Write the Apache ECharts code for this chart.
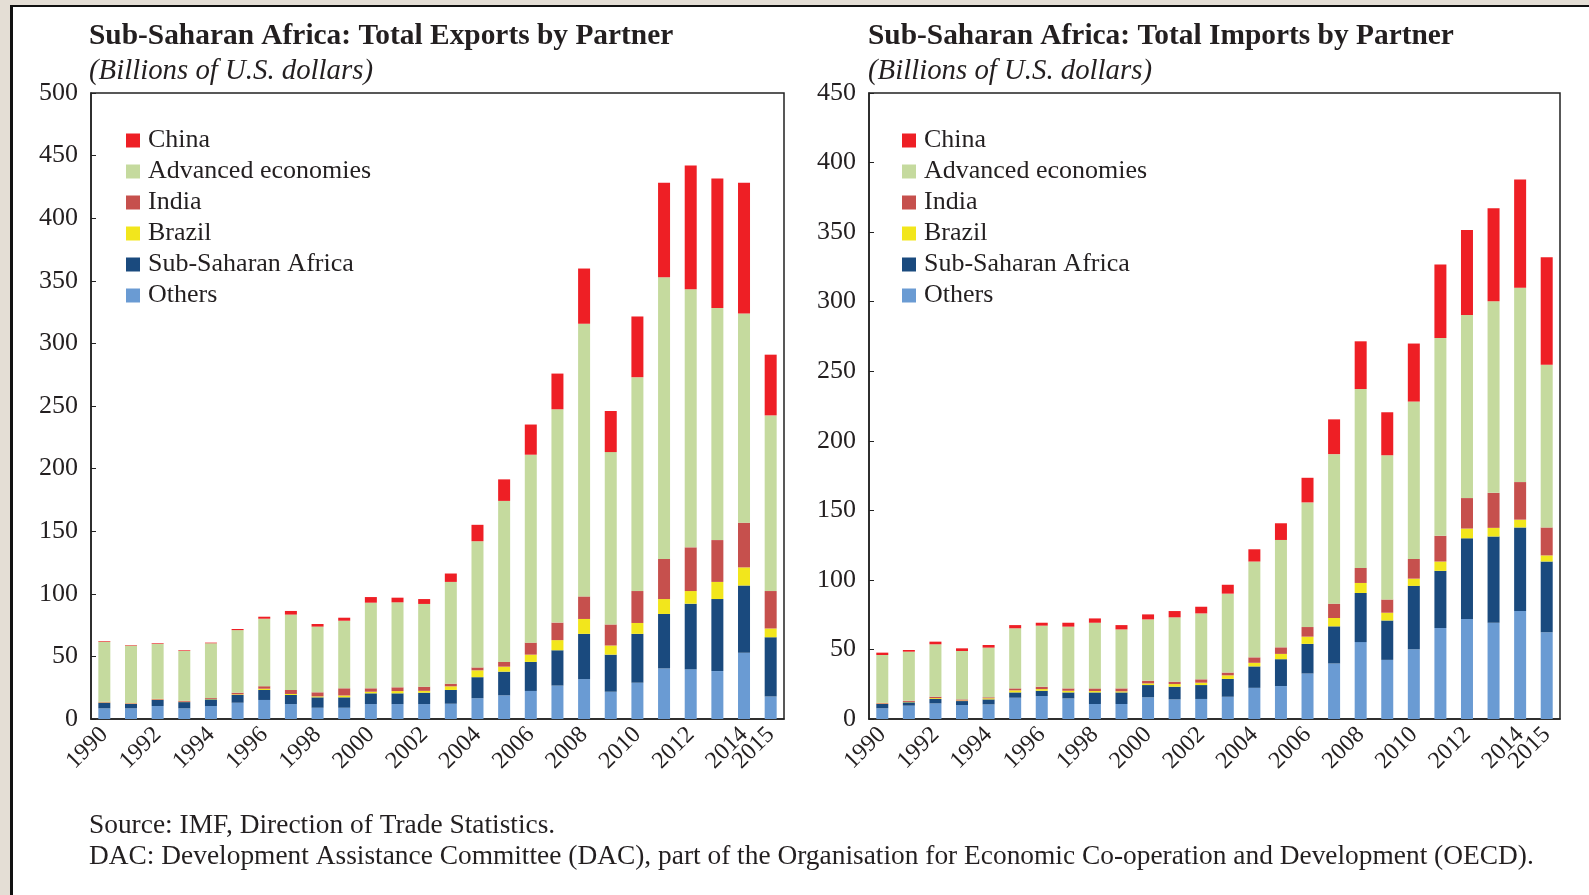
<!DOCTYPE html>
<html>
<head>
<meta charset="utf-8">
<script src="https://cdn.jsdelivr.net/npm/echarts@6/dist/echarts.min.js"></script>
<style>
    html, body { margin: 0; padding: 0; background: #ffffff; }
    #chart { width: 1589px; height: 895px; }
</style>
</head>
<body>
<div id="chart"></div>
<script>
// years on the category axis
var years = [];
for (var y = 1990; y <= 2015; y++) years.push(String(y));

var seriesNames = ["China", "Advanced economies", "India", "Brazil", "Sub-Saharan Africa", "Others"];

// exports, billions of US$
var exportsOthers = [8.5, 8.5, 10.4, 8.5, 10.4, 13, 15.2, 11.9, 9, 9, 11.9, 11.9, 11.9, 12.2, 16.6, 18.9, 22.4, 26.7, 31.9, 21.8, 29.0, 40.4, 39.8, 38.3, 52.9, 18.0];
var exportsSSA = [4.5, 3.5, 4.8, 5.0, 5.3, 6.2, 8.0, 7.3, 8.3, 8.3, 8.6, 8.6, 9.1, 11.0, 16.8, 18.9, 23.2, 28.2, 36.1, 29.6, 39.0, 43.5, 52.3, 57.5, 53.7, 47.3];
var exportsBrazil = [0.3, 0.3, 0.3, 0.3, 0.3, 0.5, 1.0, 0.8, 0.8, 1.5, 1.3, 1.8, 1.5, 2.9, 5.5, 4.0, 5.8, 8.1, 11.9, 7.3, 8.7, 11.9, 10.1, 13.7, 14.5, 7.0];
var exportsIndia = [0.5, 0.4, 0.6, 0.7, 0.7, 1.3, 2.0, 3.2, 3.2, 5.7, 2.7, 3.0, 3.3, 2.1, 2.3, 3.8, 9.6, 14.0, 18.0, 16.8, 25.5, 32.0, 34.9, 33.4, 35.7, 29.9];
var exportsAdvanced = [48, 46, 44, 40, 43.8, 50, 53.9, 60.2, 52.5, 54, 68.4, 67.9, 66.1, 81.3, 100.8, 128.6, 150.1, 170.4, 217.8, 137.7, 170.8, 225, 206.2, 185.3, 167, 140.3];
var exportsChina = [0.5, 0.4, 0.5, 0.5, 0.5, 0.9, 1.6, 2.9, 2.1, 2.4, 4.5, 3.7, 3.9, 6.7, 13.1, 17.2, 24.1, 28.5, 44.1, 32.8, 48.5, 75.5, 98.7, 103.6, 104.5, 48.5];

// imports, billions of US$
var importsOthers = [7.7, 9.6, 11.2, 10.0, 10.5, 15.3, 16.5, 14.8, 10.8, 10.8, 15.6, 14.1, 14.4, 16.0, 22.4, 23.7, 32.7, 39.9, 55.3, 42.5, 50.2, 65.4, 71.8, 69.2, 77.7, 62.3];
var importsSSA = [3.1, 2.4, 3.2, 2.9, 3.6, 3.8, 3.8, 4.3, 8.3, 8.3, 8.8, 9.1, 10.0, 12.8, 15.4, 19.3, 21.3, 26.7, 35.3, 28.3, 45.5, 41.1, 58.1, 62.0, 60.0, 50.9];
var importsBrazil = [0.3, 0.3, 0.6, 0.4, 0.8, 1.5, 1.2, 1.2, 1.0, 0.8, 1.2, 1.9, 1.7, 2.6, 2.6, 3.8, 5.2, 6.0, 7.2, 5.6, 5.2, 6.7, 7.0, 6.2, 5.6, 4.4];
var importsIndia = [0.5, 0.8, 1.0, 0.8, 0.7, 1.4, 1.7, 1.7, 1.9, 2.1, 1.9, 1.7, 2.4, 2.0, 3.9, 4.7, 6.9, 10.3, 10.8, 9.5, 14.1, 18.5, 21.9, 25.2, 27.0, 20.1];
var importsAdvanced = [34.4, 35.3, 37.7, 34.8, 35.7, 43.2, 43.9, 44.4, 47.2, 42.4, 44.1, 46.3, 47.4, 56.7, 68.9, 77.2, 89.6, 107.5, 128.6, 103.7, 113.2, 142.1, 131.7, 137.7, 139.7, 117.0];
var importsChina = [1.7, 1.2, 1.9, 1.9, 1.9, 2.3, 2.1, 2.8, 3.1, 3.1, 3.6, 4.5, 4.8, 6.4, 8.8, 12.0, 17.7, 25.0, 34.3, 30.9, 41.7, 53.0, 61.0, 66.9, 77.8, 77.2];

document.addEventListener("DOMContentLoaded", function () {
    var font = "'Liberation Serif', 'DejaVu Serif', serif";
    var ink = "#231f20";
    var colors = {
        "China": "#ee1f25",
        "Advanced economies": "#c5da9e",
        "India": "#c6504d",
        "Brazil": "#f2e61c",
        "Sub-Saharan Africa": "#1a4a7e",
        "Others": "#6a9bd3"
    };

    var myChart = echarts.init(document.getElementById("chart"));

    function stackSeries(idx, stackName, data) {
        // bottom to top: Others, SSA, Brazil, India, Advanced, China
        var order = ["Others", "Sub-Saharan Africa", "Brazil", "India", "Advanced economies", "China"];
        return order.map(function (name) {
            return {
                name: name,
                type: "bar",
                stack: stackName,
                xAxisIndex: idx,
                yAxisIndex: idx,
                barWidth: 12,
                itemStyle: { color: colors[name] },
                data: data[name]
            };
        });
    }

    var labelBase = {
        rotate: 45,
        margin: 12,
        color: ink,
        fontFamily: font,
        fontSize: 24,
        hideOverlap: false,
        padding: [25, 0, 0, 0]
    };

    function xAxisFor(idx) {
        return {
            type: "category",
            gridIndex: idx,
            position: "bottom",
            data: years,
            axisLine: { lineStyle: { color: "#222", width: 1.5 } },
            axisTick: { inside: true, length: 5, interval: 0, lineStyle: { color: "#222" } },
            axisLabel: Object.assign({}, labelBase, {
                showMinLabel: true,
                showMaxLabel: true,
                // every second year
                interval: function (i) { return i % 2 === 0 && i < years.length - 1; }
            })
        };
    }

    // second axis on the same grid carries only the last year's label
    // (otherwise the overlap with 2014 hides one of them)
    function lastLabelAxis(idx) {
        return {
            type: "category",
            gridIndex: idx,
            position: "bottom",
            data: years,
            axisLine: { show: false },
            axisTick: { show: false },
            axisLabel: Object.assign({}, labelBase, {
                showMinLabel: false,
                showMaxLabel: true,
                interval: function (i) { return i === years.length - 1; }
            })
        };
    }

    function yAxisFor(idx, max) {
        return {
            type: "value",
            gridIndex: idx,
            min: 0,
            max: max,
            interval: 50,
            splitLine: { show: false },
            axisLine: { show: true, lineStyle: { color: "#222", width: 1.5 } },
            axisTick: { show: true, inside: true, length: 5, lineStyle: { color: "#222" } },
            axisLabel: { margin: 13, color: ink, fontFamily: font, fontSize: 26 }
        };
    }

    function legendFor(left) {
        return {
            orient: "vertical",
            left: left,
            top: 125,
            padding: 0,
            itemGap: 0,
            itemWidth: 14,
            itemHeight: 14,
            icon: "rect",
            data: seriesNames,
            textStyle: { fontFamily: font, fontSize: 26, color: ink, lineHeight: 31, padding: [0, 0, 0, 3] }
        };
    }

    function titleFor(left, text) {
        return {
            left: left,
            top: 20,
            padding: 0,
            itemGap: 4,
            text: text,
            subtext: "(Billions of U.S. dollars)",
            textStyle: { fontFamily: font, fontSize: 29.4, fontWeight: "bold", color: ink, lineHeight: 32 },
            subtextStyle: { fontFamily: font, fontSize: 28.8, fontStyle: "italic", color: ink, lineHeight: 30 }
        };
    }

    var option = {
        animation: false,
        backgroundColor: "#ffffff",
        title: [
            titleFor(89, "Sub-Saharan Africa: Total Exports by Partner"),
            titleFor(868, "Sub-Saharan Africa: Total Imports by Partner"),
            {
                left: 89, top: 810, padding: 0,
                text: "Source: IMF, Direction of Trade Statistics.",
                textStyle: { fontFamily: font, fontSize: 27.4, fontWeight: "normal", color: ink, lineHeight: 31 }
            },
            {
                left: 89, top: 841, padding: 0,
                text: "DAC: Development Assistance Committee (DAC), part of the Organisation for Economic Co-operation and Development (OECD).",
                textStyle: { fontFamily: font, fontSize: 27.4, fontWeight: "normal", color: ink, lineHeight: 31 }
            }
        ],
        legend: [legendFor(126), legendFor(902)],
        grid: [
            { left: 91, top: 93, width: 693, height: 626, show: true, borderColor: "#222", borderWidth: 1.5, containLabel: false },
            { left: 869, top: 93, width: 691, height: 626, show: true, borderColor: "#222", borderWidth: 1.5, containLabel: false }
        ],
        xAxis: [xAxisFor(0), xAxisFor(1), lastLabelAxis(0), lastLabelAxis(1)],
        yAxis: [yAxisFor(0, 500), yAxisFor(1, 450)],
        series: stackSeries(0, "exports", {
            "Others": exportsOthers,
            "Sub-Saharan Africa": exportsSSA,
            "Brazil": exportsBrazil,
            "India": exportsIndia,
            "Advanced economies": exportsAdvanced,
            "China": exportsChina
        }).concat(stackSeries(1, "imports", {
            "Others": importsOthers,
            "Sub-Saharan Africa": importsSSA,
            "Brazil": importsBrazil,
            "India": importsIndia,
            "Advanced economies": importsAdvanced,
            "China": importsChina
        })),
        // page frame: beige margin with a dark rule on the top and left
        graphic: [
            { type: "rect", left: 0, top: 0, shape: { width: 10, height: 895 }, style: { fill: "#e4ded5" }, silent: true },
            { type: "rect", left: 0, top: 0, shape: { width: 1589, height: 5 }, style: { fill: "#e4ded5" }, silent: true },
            { type: "rect", left: 10, top: 5, shape: { width: 3, height: 890 }, style: { fill: "#111" }, silent: true },
            { type: "rect", left: 10, top: 5, shape: { width: 1579, height: 2 }, style: { fill: "#111" }, silent: true }
        ]
    };

    myChart.setOption(option);
});
</script>
</body>
</html>
